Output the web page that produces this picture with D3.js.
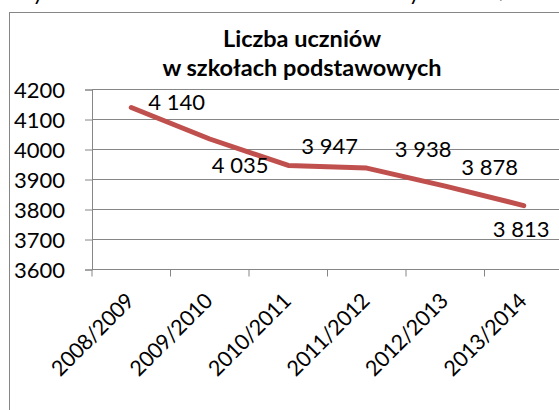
<!DOCTYPE html>
<html>
<head>
<meta charset="utf-8">
<script src="https://cdn.jsdelivr.net/npm/d3@7"></script>
<style>
  html, body { margin: 0; padding: 0; background: #fff; }
  #chart { width: 559px; height: 410px; overflow: hidden; }
  text { font-family: Lato, "Open Sans", sans-serif; fill: #000; }
</style>
</head>
<body>
<div id="chart"></div>
<script>
const categories = ["2008/2009", "2009/2010", "2010/2011", "2011/2012", "2012/2013", "2013/2014"];
const pupils = [4140, 4035, 3947, 3938, 3878, 3813];
const yTicks = [3600, 3700, 3800, 3900, 4000, 4100, 4200];
const titleLines = ["Liczba uczniów", "w szkołach podstawowych"];

// hand placed data labels (offset from the point)
const labelDx = [17, 2, 13, 28, 16, -31];
const labelDy = [2.5, 34, -11, -11, -11, 31];

function draw() {
  d3.select("#chart").selectAll("*").remove();

  const w = 559, h = 410;
  const svg = d3.select("#chart")
    .append("svg")
    .attr("width", w)
    .attr("height", h);

  // bottom of the line of text above the chart, cut by the picture edge
  svg.append("defs").append("clipPath")
    .attr("id", "topclip")
    .append("rect")
    .attr("width", w)
    .attr("height", 7);
  svg.append("text")
    .attr("clip-path", "url(#topclip)")
    .attr("x", 10)
    .attr("y", 0)
    .style("font-size", "22px")
    .text("Wykres 3. Liczba uczniów w latach szkolnych 2008/2009–2013/2014");

  // chart frame, runs past the right and bottom edges
  svg.append("rect")
    .attr("x", 9.5)
    .attr("y", 12.5)
    .attr("width", 700)
    .attr("height", 600)
    .attr("fill", "none")
    .attr("stroke", "#868686")
    .attr("stroke-width", 1);

  const x = d3.scaleBand()
    .domain(categories)
    .range([92, 563]);

  const y = d3.scaleLinear()
    .domain([3600, 4200])
    .range([269.5, 89.5]);

  const cx = d => x(d) + x.bandwidth() / 2;

  // gridlines
  svg.append("g")
    .selectAll("line")
    .data(yTicks)
    .join("line")
    .attr("x1", x.range()[0])
    .attr("x2", x.range()[1])
    .attr("y1", d => y(d))
    .attr("y2", d => y(d))
    .attr("stroke", "#868686")
    .attr("stroke-width", 1);

  // y axis
  const yAxis = svg.append("g")
    .attr("transform", `translate(${x.range()[0]},0)`)
    .call(d3.axisLeft(y).tickValues(yTicks).tickSize(7).tickPadding(20).tickFormat(d3.format("d")));
  yAxis.select(".domain").attr("stroke", "#868686");
  yAxis.selectAll(".tick line").attr("stroke", "#868686");
  yAxis.selectAll(".tick text")
    .attr("dy", "0.38em")
    .style("font-size", "22px")
    .style("font-family", "Lato, sans-serif")
    .attr("fill", "#000");

  // x axis: ticks on category boundaries (Excel style)
  const xAxis = svg.append("g");
  const base = y.range()[0];
  xAxis.append("line")
    .attr("x1", x.range()[0])
    .attr("x2", x.range()[1])
    .attr("y1", base)
    .attr("y2", base)
    .attr("stroke", "#868686");
  xAxis.selectAll("line.tick")
    .data(categories.map(c => x(c)).concat([x.range()[1]]))
    .join("line")
    .attr("class", "tick")
    .attr("x1", d => d)
    .attr("x2", d => d)
    .attr("y1", base)
    .attr("y2", base + 7)
    .attr("stroke", "#868686");
  xAxis.selectAll("text")
    .data(categories)
    .join("text")
    .attr("text-anchor", "end")
    .attr("transform", d => `translate(${cx(d) + 4},${base + 33}) rotate(-45)`)
    .style("font-size", "21.5px")
    .style("letter-spacing", "-0.4px")
    .text(d => d);

  // title
  svg.append("g")
    .selectAll("text")
    .data(titleLines)
    .join("text")
    .attr("x", 302)
    .attr("y", (d, i) => 47 + i * 29)
    .attr("text-anchor", "middle")
    .style("font-size", "23.5px")
    .style("font-weight", "bold")
    .text(d => d);

  // series line
  const data = categories.map((c, i) => ({ c, v: pupils[i], i }));
  const line = d3.line()
    .x(d => cx(d.c))
    .y(d => y(d.v));

  svg.append("path")
    .datum(data)
    .attr("d", line)
    .attr("fill", "none")
    .attr("stroke", "#c0504d")
    .attr("stroke-width", 5)
    .attr("stroke-linecap", "round")
    .attr("stroke-linejoin", "round");

  // data labels, thousands split with a space
  const fmt = d3.formatLocale({ decimal: ",", thousands: " ", grouping: [3], currency: ["", " zł"] }).format(",d");
  svg.append("g")
    .selectAll("text")
    .data(data)
    .join("text")
    .attr("x", d => cx(d.c) + labelDx[d.i])
    .attr("y", d => y(d.v) + labelDy[d.i])
    .style("font-size", "22px")
    .text(d => fmt(d.v));
}

draw();
</script>
</body>
</html>
